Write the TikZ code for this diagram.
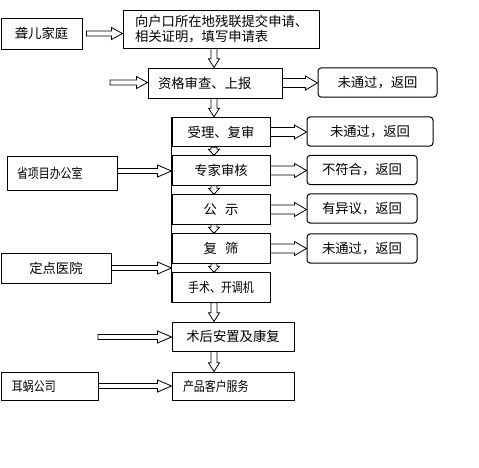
\documentclass[tikz,border=0pt]{standalone}
\usepackage{fontspec}
\usepackage{graphicx}
\setmainfont{Noto Sans CJK SC}
\usetikzlibrary{calc}
\newcommand\harr[5]{\draw[arrline] let \p1=#1, \p2=#2 in
 (\x1,\y1+#3) -- (\x2-#5,\y1+#3) -- (\x2-#5,\y1+#4) -- (\x2,\y1) -- (\x2-#5,\y1-#4) -- (\x2-#5,\y1-#3) -- (\x1,\y1-#3) -- cycle;}
\newcommand\varr[5]{\draw[arrline] let \p1=#1, \p2=#2 in
 (\x1+#3,\y1) -- (\x1+#3,\y2+#5) -- (\x1+#4,\y2+#5) -- (\x1,\y2) -- (\x1-#4,\y2+#5) -- (\x1-#3,\y2+#5) -- (\x1-#3,\y1) -- cycle;}
\newcommand\cnd[1]{\scalebox{0.82}[1]{#1}}
\begin{document}
\begin{tikzpicture}[x=0.75pt,y=-0.75pt,
  font=\fontsize{10}{11.25}\selectfont,
  box/.style={draw, line width=0.75pt, inner sep=0pt, align=center},
  rbox/.style={box, rounded corners=2.5pt, minimum width=82.5pt, minimum height=22pt},
  sbox/.style={box, minimum width=73.5pt, minimum height=22pt},
  arrline/.style={draw, line width=0.6pt, fill=white}]
\useasboundingbox (0,0) rectangle (479,468);
% main column
\node[box, minimum width=60.75pt, minimum height=23.25pt] (A) at (41.5,33.5) {聋儿家庭};
\node[box, text width=129pt, inner xsep=9pt, minimum height=28.5pt, align=left] (B) at (221,29) {向户口所在地残联提交申请、\\相关证明，填写申请表};
\node[box, text width=85.5pt, inner xsep=7.5pt, minimum height=22.5pt, align=left] (C) at (215,83) {资格审查、上报};
\node[rbox, minimum width=89.25pt] (C1) at (377.5,82.5) {未通过，返回};
\node[sbox] (D) at (221,132) {受理、复审};
\node[rbox, minimum width=94.5pt] (D1) at (370,131.5) {未通过，返回};
\node[sbox] (E) at (221,170.5) {专家审核};
\node[rbox] (E1) at (362,170) {不符合，返回};
\node[sbox] (F) at (221,209.5) {公\hspace{0.6em}示};
\node[rbox] (F1) at (362,208.5) {有异议，返回};
\node[sbox] (G) at (221,248.5) {复\hspace{0.6em}筛};
\node[rbox] (G1) at (362,248.5) {未通过，返回};
\node[sbox] (H) at (221,287.5) {\cnd{手术、开调机}};
\node[box, minimum width=91.5pt, minimum height=21.75pt] (I) at (233,336.5) {术后安置及康复};
\node[box, text width=75pt, inner xsep=8.25pt, minimum height=21pt, align=left] (J) at (233,386) {\cnd{产品客户服务}};
% side boxes
\node[box, text width=56.25pt, inner xsep=8.25pt, minimum height=21pt, align=left] (K) at (49.5,386) {\cnd{耳蜗公司}};
\node[box, text width=67.5pt, inner xsep=7.5pt, minimum height=25.5pt, align=left] (L) at (62,173) {\cnd{省项目办公室}};
\node[box, minimum width=82.5pt, minimum height=22.5pt] (M) at (56,268) {定点医院};
\coordinate (c0) at (110,82.5);
\coordinate (i0) at (98,337);
% left edge of stack
\draw[line width=0.75pt] (D.north west) -- (H.south west);
% arrows
\harr{($(A.east)+(4,0)$)}{(B.west)}{1.9pt}{4.5pt}{8.25pt}
\harr{(c0)}{(C.west)}{1.9pt}{4.5pt}{8.25pt}
\harr{(C.east)}{(C1.west)}{3.4pt}{5.25pt}{9pt}
\harr{(D.east)}{(D1.west)}{3.4pt}{5.25pt}{9pt}
\harr{(E.east)}{(E1.west)}{3.4pt}{5.25pt}{9pt}
\harr{(F.east)}{(F1.west)}{3.4pt}{5.25pt}{9pt}
\harr{(G.east)}{(G1.west)}{3.4pt}{5.25pt}{9pt}
\harr{($(L.east)+(0,-2)$)}{(E.west)}{1.9pt}{4.5pt}{10.5pt}
\harr{(M.east)}{(H.north west)}{1.9pt}{4.5pt}{10.5pt}
\harr{(i0)}{(I.west)}{1.9pt}{4.5pt}{10.5pt}
\harr{(K.east)}{(J.west)}{1.9pt}{4.5pt}{10.5pt}
\varr{($(B.south)+(-7,0)$)}{(C.north)}{2.25pt}{4.1pt}{6.5pt}
\varr{($(C.south)+(-1,0)$)}{(D.north)}{2.25pt}{4.1pt}{6.5pt}
\varr{($(D.south)+(-7,0)$)}{(E.north)}{2.25pt}{4.1pt}{4.5pt}
\varr{($(E.south)+(-7,0)$)}{(F.north)}{2.25pt}{4.1pt}{4.5pt}
\varr{($(F.south)+(-7,0)$)}{(G.north)}{2.25pt}{4.1pt}{4.5pt}
\varr{($(G.south)+(-7,0)$)}{(H.north)}{2.25pt}{4.1pt}{4.5pt}
\varr{($(H.south)+(-7,0)$)}{(I.north)}{2.25pt}{4.1pt}{6.5pt}
\varr{($(I.south)+(-19,0)$)}{(J.north)}{2.25pt}{4.1pt}{6.5pt}
\end{tikzpicture}
\end{document}
